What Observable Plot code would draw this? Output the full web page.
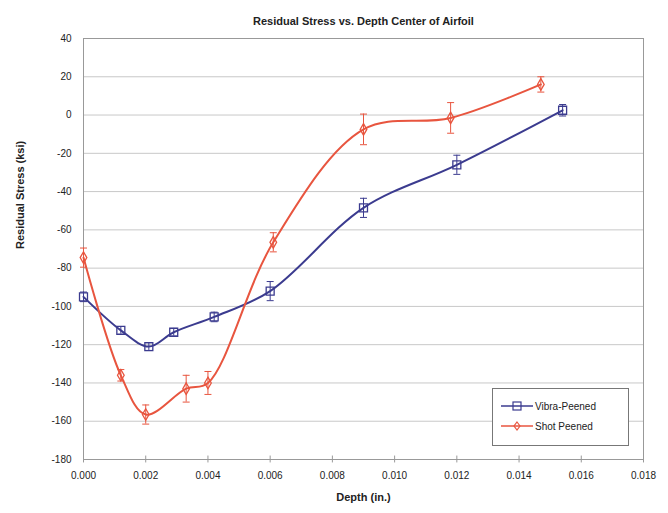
<!DOCTYPE html>
<html><head><meta charset="utf-8">
<script src="https://cdn.jsdelivr.net/npm/d3@7"></script>
<script src="https://cdn.jsdelivr.net/npm/@observablehq/plot@0.6"></script>
<style>
body{margin:0;background:#fff;font-family:"Liberation Sans",Arial,sans-serif;}
#wrap{position:relative;width:668px;height:513px;}
#legend{position:absolute;left:492px;top:388px;width:135px;height:56px;border:1px solid #777;background:#fff;font-size:10px;color:#222;}
#legend .row{display:flex;align-items:center;height:20px;margin-left:6px;}
#legend .row:first-child{margin-top:7px;}
</style></head>
<body><div id="wrap"><div id="chart"></div>
<div id="legend">
<div class="row"><svg width="36" height="12"><line x1="2" x2="34" y1="6" y2="6" stroke="#3b3b8f" stroke-width="1.5"/><rect x="14" y="2" width="8" height="8" fill="none" stroke="#3b3b8f" stroke-width="1.2"/></svg><span>Vibra-Peened</span></div>
<div class="row"><svg width="36" height="12"><line x1="2" x2="34" y1="6" y2="6" stroke="#e8553f" stroke-width="1.5"/><path d="M18,2L21,6L18,10L15,6Z" fill="none" stroke="#e8553f" stroke-width="1.2"/></svg><span>Shot Peened</span></div>
</div></div>
<script>
const vibraDepth = [0.0000, 0.0012, 0.0021, 0.0029, 0.0042, 0.0060, 0.0090, 0.0120, 0.0154];
const vibraStress = [-95, -112.5, -121, -113.5, -105.5, -92, -48.5, -26, 2.5];
const vibraErr = [2.5, 2, 2, 2, 2.5, 5, 5, 5, 3];

const shotDepth = [0.0000, 0.0012, 0.0020, 0.0033, 0.0040, 0.0061, 0.0090, 0.0118, 0.0147];
const shotStress = [-74.5, -136, -156.5, -143, -140, -66.5, -7.5, -1.5, 16];
const shotErr = [5, 3, 5, 7, 6, 5, 8, 8, 4];

const yTicks = [40, 20, 0, -20, -40, -60, -80, -100, -120, -140, -160, -180];
const xTicks = [0, 0.002, 0.004, 0.006, 0.008, 0.010, 0.012, 0.014, 0.016, 0.018];

const vibra = vibraDepth.map((d, i) => ({x: d, y: vibraStress[i], e: vibraErr[i]}));
const shot = shotDepth.map((d, i) => ({x: d, y: shotStress[i], e: shotErr[i]}));

const blue = "#3b3b8f", red = "#e8553f";
const cap = {draw(ctx, size) { const w = 3.5; ctx.moveTo(-w, 0); ctx.lineTo(w, 0); }};

function errMarks(data, color) {
  return [
    Plot.ruleX(data, {x: "x", y1: d => d.y - d.e, y2: d => d.y + d.e, stroke: color, strokeWidth: 1}),
    Plot.dot(data, {x: "x", y: d => d.y - d.e, symbol: cap, stroke: color, strokeWidth: 1, r: 3}),
    Plot.dot(data, {x: "x", y: d => d.y + d.e, symbol: cap, stroke: color, strokeWidth: 1, r: 3})
  ];
}

const chart = Plot.plot({
  width: 668, height: 513,
  marginLeft: 83, marginRight: 25, marginTop: 38, marginBottom: 54,
  style: {fontFamily: "Liberation Sans, Arial, sans-serif", fontSize: "10px", color: "#222"},
  x: {domain: [0, 0.018], ticks: xTicks, tickFormat: d3.format(".3f"), tickSize: 0, tickPadding: 12, label: null},
  y: {domain: [-180, 40], ticks: yTicks, tickFormat: d => String(d), tickSize: 0, tickPadding: 12, label: null},
  marks: [
    Plot.gridY(yTicks, {stroke: "#c8c8c8", strokeOpacity: 1}),
    Plot.frame({stroke: "#999"}),
    Plot.ruleX(xTicks, {x: d => d, y1: -181.8, y2: -178.2, stroke: "#999"}),
    ...errMarks(vibra, blue),
    ...errMarks(shot, red),
    Plot.line(vibra, {x: "x", y: "y", stroke: blue, strokeWidth: 2, curve: "catmull-rom"}),
    Plot.line(shot, {x: "x", y: "y", stroke: red, strokeWidth: 2, curve: "catmull-rom"}),
    Plot.dot(vibra, {x: "x", y: "y", symbol: "square", r: 4.5, stroke: blue, strokeWidth: 1.3, fill: "none"}),
    Plot.dot(shot, {x: "x", y: "y", symbol: "diamond", r: 3.5, stroke: red, strokeWidth: 1.3, fill: "none"}),
    Plot.text(["Residual Stress vs. Depth Center of Airfoil"], {frameAnchor: "top", dy: -21, fontWeight: "bold", fontSize: 11, fill: "#222"}),
    Plot.text(["Depth (in.)"], {frameAnchor: "bottom", dy: 41, fontWeight: "bold", fontSize: 11, fill: "#222"}),
    Plot.text(["Residual Stress (ksi)"], {frameAnchor: "left", dx: -63, rotate: -90, fontWeight: "bold", fontSize: 11, fill: "#222"})
  ]
});
document.getElementById("chart").append(chart);
</script></body></html>
